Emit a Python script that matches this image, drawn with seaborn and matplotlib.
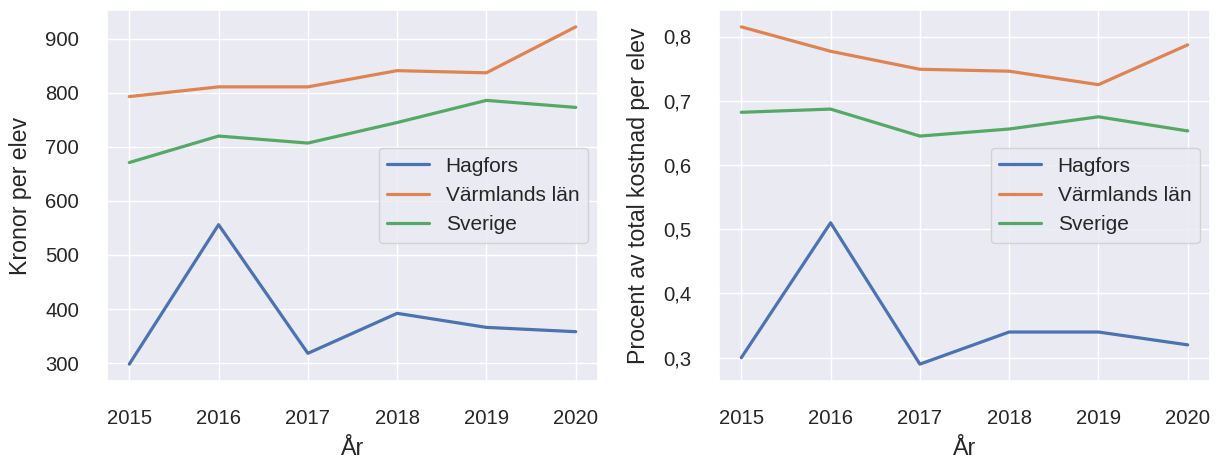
import matplotlib
matplotlib.use("Agg")
import matplotlib.pyplot as plt
from matplotlib.ticker import FuncFormatter
import seaborn as sns
import pandas as pd

years = [2015, 2016, 2017, 2018, 2019, 2020]
regions = ["Hagfors", "Värmlands län", "Sverige"]

kronor_hagfors = [298, 556, 318, 392, 366, 358]
kronor_varmland = [793, 811, 811, 841, 837, 922]
kronor_sverige = [671, 720, 707, 745, 786, 773]

andel_hagfors = [0.30, 0.51, 0.29, 0.34, 0.34, 0.32]
andel_varmland = [0.815, 0.777, 0.749, 0.746, 0.725, 0.787]
andel_sverige = [0.682, 0.687, 0.645, 0.656, 0.675, 0.653]


def long_df(series):
    rows = []
    for name, vals in zip(regions, series):
        for y, v in zip(years, vals):
            rows.append({"År": y, "Område": name, "Värde": v})
    return pd.DataFrame(rows)


df_k = long_df([kronor_hagfors, kronor_varmland, kronor_sverige])
df_a = long_df([andel_hagfors, andel_varmland, andel_sverige])

sns.set_theme(style="darkgrid")
plt.rcParams["font.family"] = ["Liberation Sans", "DejaVu Sans"]
plt.rcParams.update({
    "xtick.labelsize": 14.6,
    "ytick.labelsize": 14.6,
    "axes.labelsize": 16.7,
    "legend.fontsize": 15,
    "xtick.major.pad": 14,
    "ytick.major.pad": 14,
})

fig = plt.figure(figsize=(12.17, 4.59), dpi=100)
ax1 = fig.add_axes([107 / 1217, 1 - 381 / 459, (598 - 107) / 1217, (381 - 10) / 459])
ax2 = fig.add_axes([719 / 1217, 1 - 381 / 459, (1210 - 719) / 1217, (381 - 10) / 459])

for ax, df, ylabel in [(ax1, df_k, "Kronor per elev"),
                       (ax2, df_a, "Procent av total kostnad per elev")]:
    sns.lineplot(data=df, x="År", y="Värde", hue="Område", ax=ax, linewidth=2.3)
    ax.set_ylabel(ylabel, labelpad=9.5)
    ax.set_xlabel("År", labelpad=6.5)
    ax.set_xticks(years)
    ax.legend(loc="center right", title=None)

ax2.yaxis.set_major_formatter(FuncFormatter(lambda v, p: f"{v:.1f}".replace(".", ",")))

fig.savefig("out.png", dpi=100)
